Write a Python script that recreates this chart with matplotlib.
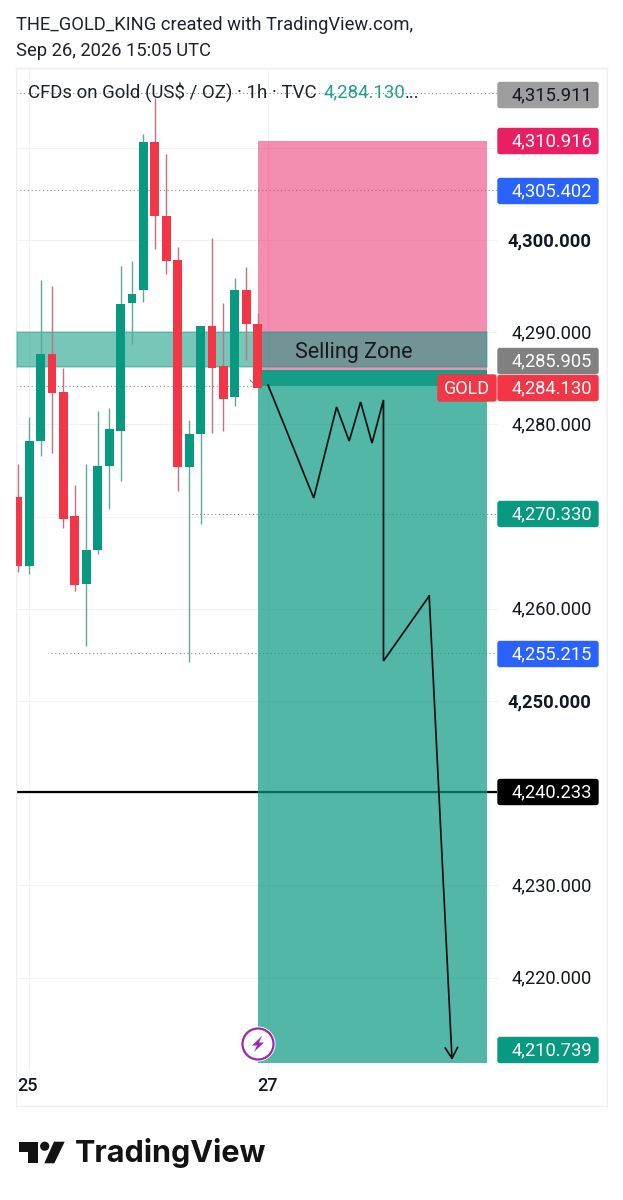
import matplotlib
matplotlib.use("Agg")
import matplotlib.pyplot as plt
from matplotlib.patches import Rectangle, FancyBboxPatch, Circle, Polygon

plt.rcParams["font.family"] = ["Roboto", "DejaVu Sans"]

W, H = 623, 1200
TEAL = "#089981"
RED = "#F23645"

# candles, top of body / bottom of body / wick ends
candle_up = [0, 1, 1, 0, 0, 0, 1, 1, 1, 1, 1, 1, 0, 0, 0, 1, 1, 0, 0, 1, 0, 0]
body_top = [4272.16, 4278.23, 4287.60, 4287.64, 4283.48, 4270.10, 4266.38, 4275.49, 4279.47, 4293.06, 4294.11,
            4310.60, 4310.66, 4302.64, 4297.83, 4278.96, 4290.64, 4290.64, 4286.33, 4294.54, 4294.61, 4290.89]
body_bot = [4264.67, 4264.67, 4278.20, 4283.44, 4269.74, 4262.58, 4262.69, 4266.35, 4275.52, 4279.28, 4293.17,
            4294.58, 4302.60, 4297.72, 4275.35, 4275.35, 4278.93, 4286.12, 4282.75, 4282.94, 4290.86, 4283.92]
wick_high = [4275.70, 4280.84, 4295.63, 4295.04, 4286.08, 4273.43, 4275.67, 4281.45, 4281.75, 4297.21, 4297.75,
             4311.50, 4315.37, 4309.36, 4299.21, 4280.44, 4290.64, 4300.18, 4293.13, 4295.88, 4297.04, 4292.05]
wick_low = [4263.96, 4263.77, 4276.61, 4276.93, 4268.76, 4261.96, 4256.00, 4265.91, 4270.79, 4273.89, 4288.72,
            4293.31, 4299.06, 4296.28, 4272.78, 4254.26, 4269.17, 4279.10, 4279.25, 4281.96, 4287.02, 4283.92]

grid_ticks = [4310, 4300, 4290, 4280, 4270, 4260, 4250, 4240, 4230, 4220]
axis_ticks = [4300, 4290, 4280, 4260, 4250, 4230, 4220]
bold_ticks = [4300, 4250]

stop_price = 4310.7
entry_price = 4285.905
target_price = 4210.739
last_price = 4284.130
zone_top = 4290.0
zone_bot = 4286.2

# forecast path drawn on the chart
path_x = [21.9, 25.9, 27.9, 29.0, 30.0, 31.0, 32.0, 32.0, 36.0]
path_y = [4284.27, 4272.02, 4281.89, 4278.20, 4282.43, 4277.98, 4282.65, 4254.34, 4261.39]
arrow_end = (38.0, 4211.06)

label_prices = [4315.911, 4310.916, 4305.402, 4285.905, 4284.130, 4270.330, 4255.215, 4240.233, 4210.739]
label_colors = ["#9E9E9E", "#E91E63", "#2962FF", "#808080", RED, TEAL, "#2962FF", "#000000", TEAL]
label_text_colors = ["#131722", "white", "white", "white", "white", "white", "white", "white", "white"]
label_centers = [95, 141, 191, 361, 388, 514, 654, 792, 1050]


def x_idx(px_x):
    return (px_x - 17.7) / 11.43


def y_price(px_y):
    return 4300 - (px_y - 240) / 9.22


fig = plt.figure(figsize=(W / 100, H / 100), dpi=100, facecolor="white")
ax = fig.add_axes([16 / W, 1 - 1106 / H, 591 / W, 1038 / H])
ax.set_xlim(x_idx(16), x_idx(607))
ax.set_ylim(y_price(1106), y_price(68))
ax.set_xticks([])
ax.set_yticks([])
for s in ax.spines.values():
    s.set_color("#EEEFF1")
    s.set_linewidth(1)

right = x_idx(497)
left = x_idx(16)
bottom_edge = y_price(1070)

# grid
ax.hlines(grid_ticks, left, right, color="#F1F2F4", lw=0.8, zorder=1)
ax.vlines([x_idx(29), x_idx(268)], bottom_edge, y_price(68), color="#F1F2F4", lw=0.8, zorder=1)

# levels
dots = dict(color="#8A8F98", lw=0.8, linestyle=(0, (1, 2.4)), zorder=2)
ax.hlines(4315.911, left, right, **dots)
ax.hlines(4305.402, left, right, **dots)
ax.hlines(last_price, left, x_idx(258), **dots)
ax.hlines(4270.330, x_idx(192), right, **dots)
ax.hlines(4255.215, x_idx(51), right, **dots)
ax.hlines(4240.1, left, right, color="black", lw=1.6, zorder=2)

# position tool
x0, x1 = x_idx(257.5), x_idx(487)
ax.add_patch(Rectangle((x0, entry_price), x1 - x0, stop_price - entry_price, fc="#E91E63", alpha=0.5, lw=0, zorder=3))
ax.add_patch(Rectangle((x0, target_price), x1 - x0, entry_price - target_price, fc=TEAL, alpha=0.7, lw=0, zorder=3))
ax.add_patch(Rectangle((x0, last_price), x1 - x0, entry_price - last_price, fc="#149E88", lw=0, zorder=3))

# selling zone
ax.add_patch(Rectangle((x_idx(16.5), zone_bot), x1 - x_idx(16.5), zone_top - zone_bot, fc=TEAL, ec="none", alpha=0.55, zorder=4))
ax.add_patch(Rectangle((x_idx(16.5), zone_bot), x1 - x_idx(16.5), zone_top - zone_bot, fc="none", ec=TEAL, alpha=0.35, lw=1.2, zorder=4))
ax.text(x_idx(353.5), y_price(352), "Selling Zone", fontsize=15.5, color="#15191F", ha="center", va="center", zorder=8)

# candles
for i, up in enumerate(candle_up):
    ax.vlines(i, wick_low[i], wick_high[i], color="#5DAA9B" if up else "#C4707F", lw=1.0, zorder=5)
    ax.bar(i, body_top[i] - body_bot[i], bottom=body_bot[i], width=0.78, color=TEAL if up else RED, lw=0, zorder=6)

# forecast path
ax.plot(path_x, path_y, color="#0B0F12", lw=1.25, solid_joinstyle="miter", zorder=7)
ax.annotate("", xy=arrow_end, xytext=(path_x[-1], path_y[-1]), zorder=7,
            arrowprops=dict(arrowstyle="->,head_length=0.55,head_width=0.32", color="#0B0F12", lw=1.25,
                            mutation_scale=14, shrinkA=0, shrinkB=0))
ax.plot([x_idx(250), x_idx(256)], [y_price(380), y_price(386)], color="#77808A", lw=0.7, zorder=5)

# everything outside the plot area, in picture pixels
px = fig.add_axes([0, 0, 1, 1])
px.set_xlim(0, W)
px.set_ylim(H, 0)
px.axis("off")
px.patch.set_alpha(0)

px.text(16, 24.5, "THE_GOLD_KING created with TradingView.com,", fontsize=13.25, color="#1E222A", va="center")
px.text(16, 50.5, "Sep 26, 2026 15:05 UTC", fontsize=13.25, color="#1E222A", va="center")
px.text(28, 92.5, "CFDs on Gold (US$ / OZ) · 1h · TVC", fontsize=13.4, color="#1E222A", va="center")
px.text(324, 92.5, "4,284.130", fontsize=13.4, color="#22A08C", va="center")
px.text(405, 92.5, "...", fontsize=13.4, color="#1E222A", va="center")

for t in axis_ticks:
    y = 241 + (4300 - t) * 9.22
    px.text(591.5, y, f"{t:,.3f}", fontsize=13.2, color="#131722", ha="right", va="center",
            fontweight="bold" if t in bold_ticks else "normal")

for p, fc, tc, cy in zip(label_prices, label_colors, label_text_colors, label_centers):
    px.add_patch(FancyBboxPatch((498, cy - 12.5), 100, 25, boxstyle="round,pad=0,rounding_size=2", fc=fc, ec=fc, lw=1))
    px.text(592, cy, f"{p:,.3f}", fontsize=13.2, color=tc, ha="right", va="center")

px.add_patch(FancyBboxPatch((438, 375), 58, 26, boxstyle="round,pad=0,rounding_size=2", fc=RED, ec=RED, lw=1))
px.text(466.5, 389, "GOLD", fontsize=13, color="white", ha="center", va="center")

px.text(28, 1086, "25", fontsize=13, color="#131722", ha="center", va="center", fontweight="medium")
px.text(268, 1086, "27", fontsize=13, color="#131722", ha="center", va="center", fontweight="medium")

# lightning badge
px.add_patch(Circle((258, 1044), 17.5, fc="white", ec="none", zorder=5))
px.add_patch(Circle((258, 1044), 15.5, fc="white", ec="#9C27B0", lw=1.6, zorder=6))
px.add_patch(Polygon([(262, 1036), (252, 1045.5), (257, 1045.5), (254, 1052), (264, 1042.5), (259, 1042.5)],
                     closed=True, fc="#9C27B0", ec="none", zorder=7))

# TradingView logo
px.add_patch(Polygon([(18.7, 1141.7), (38.3, 1141.7), (38.3, 1163.3), (28.3, 1163.3), (28.3, 1151.7), (18.7, 1151.7)],
                     closed=True, fc="#131313", ec="none"))
px.add_patch(Circle((44.7, 1146.2), 4.6, fc="#131313", ec="none"))
px.add_patch(Polygon([(54, 1141.7), (64.7, 1141.7), (54.3, 1163.3), (44.3, 1163.3)], closed=True, fc="#131313", ec="none"))
px.text(75, 1153, "TradingView", fontsize=22, color="#131313", va="center", family=["Inter", "DejaVu Sans"], fontweight="bold")

fig.savefig("out.png", dpi=100, facecolor="white")
